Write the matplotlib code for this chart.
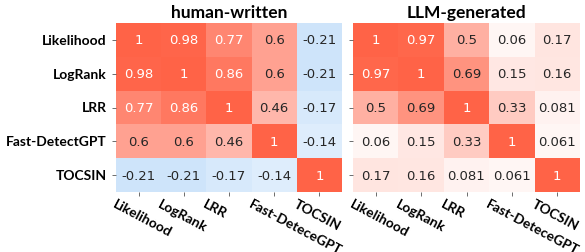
import numpy as np
import matplotlib
matplotlib.use("Agg")
import matplotlib.pyplot as plt
import matplotlib.transforms as mtransforms
import seaborn as sns
from matplotlib.colors import LinearSegmentedColormap
from matplotlib.font_manager import FontProperties

methods_y = ["Likelihood", "LogRank", "LRR", "Fast-DetectGPT", "TOCSIN"]
methods_x = ["Likelihood", "LogRank", "LRR", "Fast-DeteceGPT", "TOCSIN"]
titles = ["human-written", "LLM-generated"]

human = np.array([
    [1, 0.98, 0.77, 0.6, -0.21],
    [0.98, 1, 0.86, 0.6, -0.21],
    [0.77, 0.86, 1, 0.46, -0.17],
    [0.6, 0.6, 0.46, 1, -0.14],
    [-0.21, -0.21, -0.17, -0.14, 1],
])
llm = np.array([
    [1, 0.97, 0.5, 0.06, 0.17],
    [0.97, 1, 0.69, 0.15, 0.16],
    [0.5, 0.69, 1, 0.33, 0.081],
    [0.06, 0.15, 0.33, 1, 0.061],
    [0.17, 0.16, 0.081, 0.061, 1],
])

cmap = LinearSegmentedColormap.from_list("bwr_custom", ["#117ee7", "#ffffff", "#ff6347"])

fig = plt.figure(figsize=(5.85, 2.53), dpi=100)
W, H = 585, 253
boxes = [(116, 342), (353, 580)]
top, bottom = 24, 193
lab_font = dict(family="Lato", weight="bold", size=10)
shift = mtransforms.ScaledTranslation(-22 / 100, 0, fig.dpi_scale_trans)

for i, (data, title, (x0, x1)) in enumerate(zip([human, llm], titles, boxes)):
    ax = fig.add_axes([x0 / W, (H - bottom) / H, (x1 - x0) / W, (bottom - top) / H])
    sns.heatmap(data, ax=ax, cmap=cmap, vmin=-1, vmax=1, annot=True, fmt=".2g",
                cbar=False, annot_kws={"size": 9.5, "family": "DejaVu Sans"},
                xticklabels=methods_x, yticklabels=methods_y if i == 0 else False)
    ax.tick_params(axis="both", length=3, width=0.6, color="#555555")
    ax.tick_params(axis="x", pad=1)
    if i == 1:
        ax.set_yticks(np.arange(5) + 0.5)
        ax.set_yticklabels([])
    else:
        for t in ax.get_yticklabels():
            t.set_rotation(0)
            t.set_fontproperties(FontProperties(**lab_font))
    for t in ax.get_xticklabels():
        t.set_rotation(-28)
        t.set_ha("left")
        t.set_va("top")
        t.set_rotation_mode("anchor")
        t.set_fontproperties(FontProperties(**lab_font))
        t.set_transform(t.get_transform() + shift)
    ax.set_title(title, family="Lato", weight="bold", size=12.5, pad=4)

fig.savefig("out.png", dpi=100)
